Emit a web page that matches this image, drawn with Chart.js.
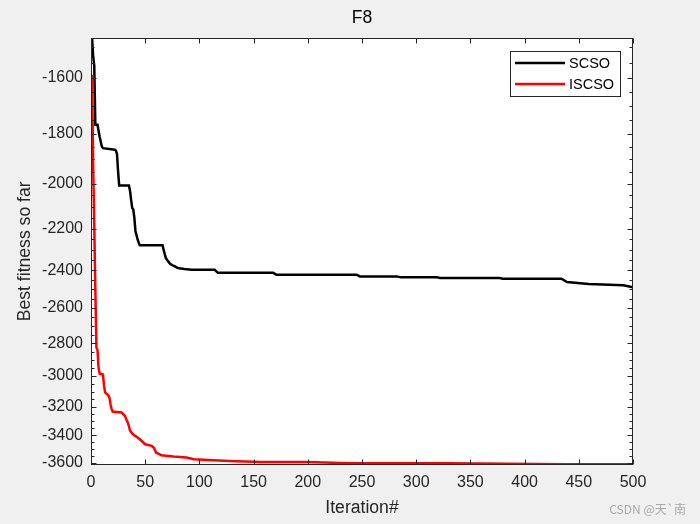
<!DOCTYPE html>
<html><head><meta charset="utf-8">
<script src="https://cdn.jsdelivr.net/npm/chart.js@4"></script>
<style>html,body{margin:0;padding:0;background:#f0f0f0}canvas{display:block}</style>
</head><body>
<canvas id="c" width="700" height="524"></canvas>
<script>
// ---- data ----
const chartTitle = 'F8';
const xLabel = 'Iteration#';
const yLabel = 'Best fitness so far';
const seriesNames = ['SCSO', 'ISCSO'];
const seriesColors = ['#000000', '#ff0000'];

const scsoIter = [1,2,3,4,6,7,8,10,11,22,23,24,25,26,35,36,37,38,39,40,41,42,43,44,45,66,67,68,69,71,73,76,80,86,93,114,117,168,171,245,248,282,286,319,322,377,380,434,439,459,491,500];
const scsoFit  = [-1472,-1530,-1560,-1767,-1767,-1790,-1812,-1850,-1856,-1862,-1866,-1880,-1950,-2008,-2008,-2030,-2070,-2105,-2112,-2150,-2210,-2230,-2250,-2265,-2277,-2277,-2300,-2320,-2339,-2355,-2369,-2378,-2389,-2394,-2398,-2398,-2414,-2414,-2423,-2423,-2432,-2432,-2437,-2437,-2440,-2440,-2444,-2444,-2461,-2471,-2478,-2489];

const iscsoIter = [1,2,3,4,5,6,7,8,11,12,13,16,17,18,19,20,28,29,31,32,33,34,35,36,37,38,40,42,45,50,56,58,60,65,76,88,95,113,128,156,199,239,331,439,500];
const iscsoFit  = [-1591,-1930,-2180,-2500,-2827,-2840,-2950,-2985,-2990,-3060,-3105,-3125,-3140,-3184,-3215,-3233,-3240,-3245,-3260,-3275,-3295,-3310,-3335,-3365,-3375,-3385,-3400,-3410,-3428,-3464,-3476,-3490,-3525,-3545,-3555,-3562,-3575,-3583,-3588,-3596,-3596,-3606,-3606,-3613,-3614];

const xTicks = [0,50,100,150,200,250,300,350,400,450,500];
const yMajorTicks = [-1600,-1800,-2000,-2200,-2400,-2600,-2800,-3000,-3200,-3400,-3600];
const yMinorTicks = [-1500,-1550,-1650,-1700,-1750,-1850,-1900,-1950,-2050,-2100,-2150,-2250,-2300,-2350,-2450,-2500,-2550,-2650,-2700,-2750,-2850,-2900,-2950,-3050,-3100,-3150,-3250,-3300,-3350,-3450,-3500,-3550];
const yLimits = [-3615, -1472];
const xLimits = [0, 500];
const watermark = 'CSDN @天`南';

// ---- chart (log axis of |fitness|, reversed so that negative values read upward) ----
const FONT = '"Liberation Sans", Arial, sans-serif';
const toMag = v => -v;
const majorMag = yMajorTicks.map(toMag);
const allMag = majorMag.concat(yMinorTicks.map(toMag)).sort((a,b)=>a-b);

const frame = {
  id: 'frame',
  beforeDraw(chart) {
    const {ctx, chartArea: a} = chart;
    ctx.save();
    ctx.fillStyle = '#f0f0f0';
    ctx.fillRect(0, 0, chart.width, chart.height);
    ctx.fillStyle = '#ffffff';
    ctx.fillRect(a.left, a.top, a.right - a.left, a.bottom - a.top);
    ctx.restore();
  },
  afterDraw(chart) {
    const {ctx, chartArea: a, scales: {x, y}} = chart;
    const L = Math.round(a.left) + 0.5, R = Math.round(a.right) - 0.5;
    const T = Math.round(a.top) + 0.5, B = Math.round(a.bottom) - 0.5;
    ctx.save();
    ctx.strokeStyle = '#262626';
    ctx.lineWidth = 1;
    ctx.beginPath();
    y.ticks.forEach(t => {
      const p = Math.round(y.getPixelForValue(t.value)) + 0.5;
      const len = majorMag.includes(t.value) ? 5 : 3;
      ctx.moveTo(L, p); ctx.lineTo(L + len, p);
      ctx.moveTo(R, p); ctx.lineTo(R - len, p);
    });
    x.ticks.forEach(t => {
      const p = Math.round(x.getPixelForValue(t.value)) + 0.5;
      ctx.moveTo(p, B); ctx.lineTo(p, B - 5);
      ctx.moveTo(p, T); ctx.lineTo(p, T + 5);
    });
    ctx.stroke();
    ctx.strokeRect(L, T, R - L, B - T);

    // legend
    const bx = 510.5, by = 51.5, bw = 110, bh = 45;
    ctx.fillStyle = '#ffffff';
    ctx.fillRect(bx, by, bw, bh);
    ctx.strokeStyle = '#262626';
    ctx.strokeRect(bx, by, bw, bh);
    ctx.font = '14.5px ' + FONT;
    ctx.textBaseline = 'middle';
    ctx.textAlign = 'left';
    chart.data.datasets.forEach((ds, i) => {
      const ly = 63 + i * 21;
      ctx.strokeStyle = ds.borderColor;
      ctx.lineWidth = 2.5;
      ctx.beginPath(); ctx.moveTo(515, ly); ctx.lineTo(565, ly); ctx.stroke();
      ctx.fillStyle = '#000000';
      ctx.fillText(ds.label, 569, ly + 1);
    });

    // watermark
    ctx.font = '12px "Noto Sans CJK SC", ' + FONT;
    ctx.fillStyle = '#a8a8a8';
    ctx.textAlign = 'right';
    ctx.fillText(watermark, 686, 509);
    ctx.restore();
  }
};

new Chart(document.getElementById('c'), {
  type: 'line',
  data: {
    datasets: [
      { label: seriesNames[0], data: scsoIter.map((it, i) => ({x: it, y: toMag(scsoFit[i])})),
        borderColor: seriesColors[0], borderWidth: 2.5, pointRadius: 0, tension: 0, fill: false, order: 1 },
      { label: seriesNames[1], data: iscsoIter.map((it, i) => ({x: it, y: toMag(iscsoFit[i])})),
        borderColor: seriesColors[1], borderWidth: 2.5, pointRadius: 0, tension: 0, fill: false, order: 0 }
    ]
  },
  options: {
    responsive: false, animation: false, devicePixelRatio: 1,
    layout: { padding: { left: 0, right: 67, top: 0, bottom: 0 } },
    plugins: {
      legend: { display: false },
      tooltip: { enabled: false },
      title: { display: true, text: chartTitle, fullSize: false, color: '#000000',
               font: { family: FONT, size: 17.6, weight: 'normal' }, padding: { top: 8, bottom: 9 } }
    },
    scales: {
      x: {
        type: 'linear', min: xLimits[0], max: xLimits[1],
        grid: { display: false, drawTicks: false }, border: { display: false },
        afterBuildTicks: s => { s.ticks = xTicks.map(v => ({value: v})); },
        afterFit: s => { s.height = 59.5; },
        ticks: { autoSkip: false, maxRotation: 0, padding: 8, color: '#262626', font: { family: FONT, size: 16 } },
        title: { display: true, text: xLabel, color: '#262626', font: { family: FONT, size: 17.6 }, padding: { top: 0, bottom: 5.5 } }
      },
      y: {
        type: 'logarithmic', reverse: true, min: toMag(yLimits[1]), max: toMag(yLimits[0]),
        grid: { display: false, drawTicks: false }, border: { display: false },
        afterBuildTicks: s => { s.ticks = allMag.map(v => ({value: v})); },
        afterFit: s => { s.width = 91; },
        ticks: { autoSkip: false, padding: 8, color: '#262626', font: { family: FONT, size: 16 },
                 callback: v => majorMag.includes(v) ? String(-v) : '' },
        title: { display: true, text: yLabel, color: '#262626', font: { family: FONT, size: 17.6 }, padding: { top: 14.5, bottom: 0 } }
      }
    }
  },
  plugins: [frame]
});
</script>
</body></html>
